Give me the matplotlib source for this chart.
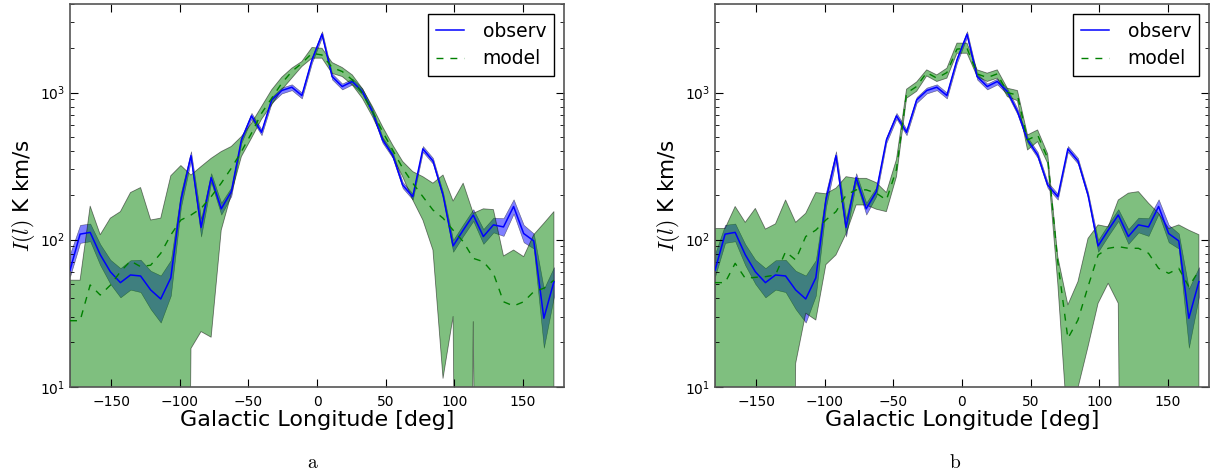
import numpy as np
import matplotlib
matplotlib.use("Agg")
import matplotlib.pyplot as plt

plt.rcParams['mathtext.fontset'] = 'cm'
plt.rcParams['font.family'] = ['DejaVu Sans']

# Galactic longitude grid (49 bins)
lon = np.linspace(-180, 180, 50)[:-1]

# observed intensity and its band
obs = [62, 109, 112, 79, 60.5, 51, 57.5, 56.6, 45.5, 39.5,
       55, 186, 372, 121, 264, 162, 212, 476, 694, 537,
       891, 1032, 1087, 955, 1667, 2495, 1285, 1099, 1189, 1016,
       743, 476, 377, 235, 196, 414, 343, 201, 90.6, 116,
       147, 105, 126, 122, 168, 110, 98, 29.2, 51.8]
obs_lo = [56, 95, 97.5, 67, 50, 40.5, 45.7, 44, 33.7, 27.3,
          41.7, 166, 347, 105, 246, 148, 198, 455, 663, 513,
          851, 986, 1038, 912, 1592, 2383, 1227, 1050, 1136, 970,
          710, 455, 360, 224, 187, 395, 328, 192, 82.7, 106,
          134, 93.6, 112, 106, 150, 96, 87, 18.4, 41]
obs_hi = [80, 126, 128.6, 93, 73, 64, 72.4, 73, 61.4, 57,
          72.5, 209, 399, 139, 283, 178, 227, 498, 727, 562,
          933, 1081, 1138, 1000, 1745, 2612, 1345, 1151, 1245, 1064,
          778, 498, 395, 246, 205, 433, 359, 210, 99.3, 127,
          161, 118, 141, 140, 188, 126, 110, 46.3, 65]

OFF = 1e-6  # band edge below the plotted range

# panel a model
mod_a = [28.1, 28.1, 49.2, 42, 49, 60.5, 71.6, 65.5, 67, 80.7,
         107.7, 136, 147, 163, 196, 242, 306, 397, 529, 723,
         914, 1156, 1390, 1584, 1850, 1800, 1480, 1390, 1220, 990,
         743, 543, 407, 306, 242, 196, 159, 140, 116, 97,
         74.6, 70.8, 59, 37.8, 35.4, 37.8, 44.3, 46.7, 53]
mod_a_hi = [53, 53, 169, 108, 140, 155, 209, 226, 136, 140,
            272, 319, 275, 314, 357, 397, 430, 502, 618, 803,
            1043, 1270, 1464, 1626, 2024, 2000, 1600, 1480, 1318, 1065,
            803, 587, 441, 340, 290, 268, 242, 275, 183, 242,
            151, 162, 160, 77.4, 85, 76.6, 108, 129, 155]
mod_a_lo = [OFF, OFF, OFF, OFF, OFF, OFF, OFF, OFF, OFF, OFF,
            OFF, OFF, 18.2, 23.7, 21.7, 116, 205, 367, 489, 659,
            824, 1043, 1253, 1503, 1713, 1713, 1350, 1285, 1127, 914,
            687, 489, 367, 268, 186, 136, 85, 11.4, 30, OFF,
            27.7, OFF, OFF, OFF, OFF, OFF, OFF, OFF, OFF]

# panel b model
mod_b = [51, 51, 69, 54.6, 55.4, 56, 57.5, 82.8, 72.8, 105,
         116, 136, 155, 201, 218, 218, 207, 186, 300, 990,
         1100, 1367, 1253, 1367, 1974, 2000, 1340, 1264, 1340, 1000,
         960, 476, 515, 357, 70.8, 21.3, 28.4, 47.9, 78.7, 87.3,
         89.6, 87.3, 87.3, 80.7, 63.8, 59, 63.8, 47.9, 61.5]
mod_b_hi = [119, 119, 168, 131, 163, 118, 128, 186, 131, 151,
            209, 205, 224, 268, 261, 261, 244, 209, 351, 1054,
            1180, 1427, 1318, 1464, 2168, 2168, 1427, 1355, 1427, 1070,
            1032, 515, 557, 383, 76.6, 36, 51.8, 102, 126, 122,
            186, 207, 212, 177, 151, 119, 126, 116, 108]
mod_b_lo = [OFF, OFF, OFF, OFF, OFF, OFF, OFF, OFF, 14.4, 31.6,
            28.4, 67.6, 78.7, 110, 172, 172, 161, 155, 268, 914,
            1020, 1297, 1189, 1253, 1850, 1850, 1285, 1189, 1253, 939,
            880, 407, 464, 330, 50.5, 5, 9.8, 18.7, 36.9, 50.5,
            36.9, OFF, OFF, OFF, OFF, OFF, OFF, OFF, OFF]

xticks = [-150, -100, -50, 0, 50, 100, 150]
captions = ['a', 'b']

W, H = 1210, 476
fig = plt.figure(figsize=(W / 100, H / 100), dpi=100)
bottom = 1 - 386.7 / H
height = (386.7 - 4) / H
ax1 = fig.add_axes([70 / W, bottom, 494 / W, height])
ax2 = fig.add_axes([715 / W, bottom, 494 / W, height])

panels = [(ax1, mod_a, mod_a_lo, mod_a_hi), (ax2, mod_b, mod_b_lo, mod_b_hi)]
for ax, m, mlo, mhi in panels:
    ax.fill_between(lon, obs_lo, obs_hi, facecolor='b', edgecolor='k',
                    alpha=0.5, lw=0.4, zorder=1)
    ax.fill_between(lon, mlo, mhi, facecolor='g', edgecolor='k',
                    alpha=0.5, lw=0.6, zorder=1.1)
    ax.plot(lon, obs, color='b', lw=1.1, label='observ', zorder=3)
    ax.plot(lon, m, color='g', ls=(0, (5, 5)), lw=1.0, label='model', zorder=3)
    ax.set_yscale('log')
    ax.set_xlim(-180, 180)
    ax.set_ylim(10, 4000)
    ax.set_xticks(xticks)
    ax.tick_params(which='both', direction='in', top=True, right=True,
                   labelsize=10, colors='k')
    ax.tick_params(which='major', length=6, width=0.8)
    ax.tick_params(which='minor', length=3, width=0.6)
    ax.tick_params(axis='x', pad=6)
    for sp in ax.spines.values():
        sp.set_color('#555555')
        sp.set_linewidth(1.2)
    ax.set_xlabel('Galactic Longitude [deg]', fontsize=16, labelpad=1)
    ax.set_ylabel(r'$I(l)$ K km/s', fontsize=15.5, labelpad=2)
    leg = ax.legend(loc='upper right', fontsize=13.5, fancybox=False,
                    edgecolor='k', framealpha=1, handlelength=1.5,
                    handletextpad=1.0, borderpad=0.4, labelspacing=0.45,
                    borderaxespad=0.55)
    leg.get_frame().set_linewidth(1.0)

fig.text(313 / W, 1 - 463 / H, r'$\mathrm{%s}$' % captions[0], fontsize=14,
         ha='center', va='center')
fig.text(955 / W, 1 - 463 / H, r'$\mathrm{%s}$' % captions[1], fontsize=14,
         ha='center', va='center')

fig.savefig('out.png', dpi=100, facecolor='white')
